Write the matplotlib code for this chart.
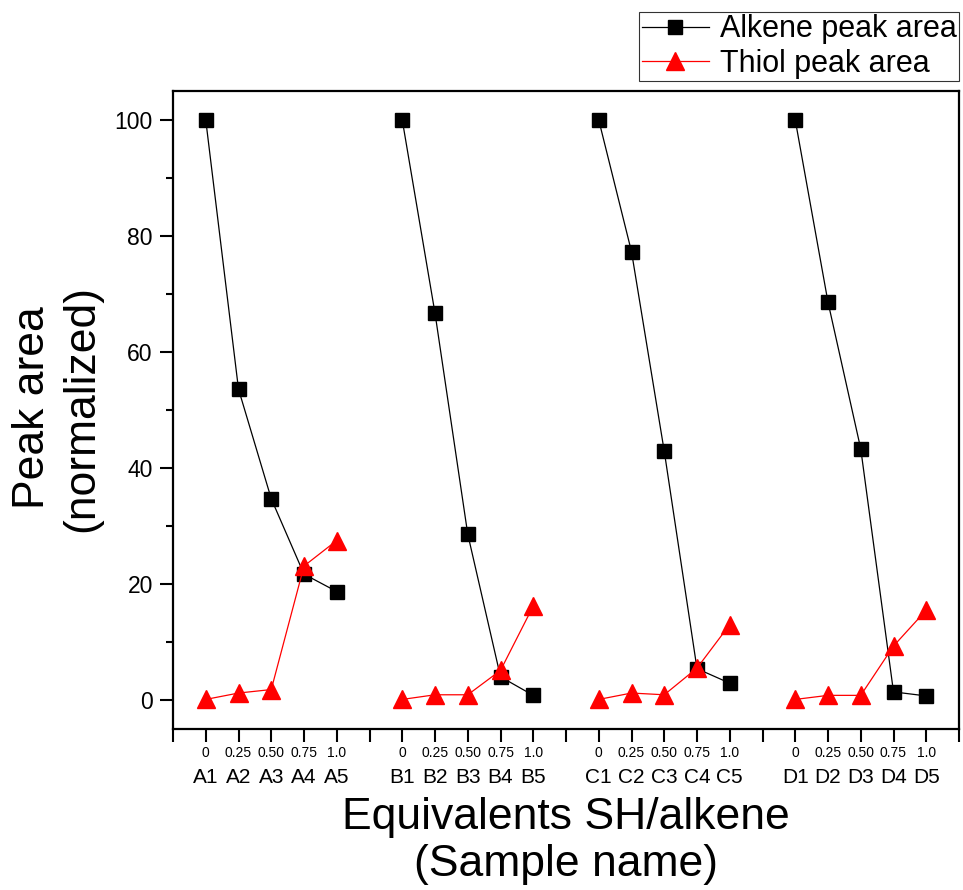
import matplotlib
matplotlib.use("Agg")
import matplotlib.pyplot as plt
from matplotlib.ticker import MultipleLocator
import numpy as np

plt.rcParams['font.family'] = ['Liberation Sans', 'DejaVu Sans']

# ---- data ----
groups = ['A', 'B', 'C', 'D']
equivalents = ['0', '0.25', '0.50', '0.75', '1.0']
alkene_A = [100, 53.6, 34.7, 21.7, 18.7]
alkene_B = [100, 66.7, 28.6, 4.0, 0.8]
alkene_C = [100, 77.3, 42.9, 5.4, 2.9]
alkene_D = [100, 68.6, 43.3, 1.4, 0.7]
thiol_A = [0.1, 1.2, 1.8, 23.1, 27.5]
thiol_B = [0.1, 0.9, 0.9, 5.1, 16.2]
thiol_C = [0.1, 1.2, 0.9, 5.5, 13.0]
thiol_D = [0.1, 0.8, 0.8, 9.3, 15.5]
alkene = [alkene_A, alkene_B, alkene_C, alkene_D]
thiol = [thiol_A, thiol_B, thiol_C, thiol_D]

fig = plt.figure(figsize=(9.63, 8.9), dpi=100)
ax = fig.add_axes([173/963, 1-729/890, (959-173)/963, (729-91)/890])

for gi, g in enumerate(groups):
    x = np.arange(1, 6) + gi * 6
    ax.plot(x, alkene[gi], color='black', lw=0.9, marker='s', ms=10,
            mfc='black', mec='black', label='Alkene peak area' if gi == 0 else None, zorder=3)
for gi, g in enumerate(groups):
    x = np.arange(1, 6) + gi * 6
    ax.plot(x, thiol[gi], color='red', lw=0.9, marker='^', ms=12.5,
            mfc='red', mec='red', label='Thiol peak area' if gi == 0 else None, zorder=4)

ax.set_xlim(0, 24)
ax.set_ylim(-5, 105)
ax.set_xticks(np.arange(0, 25))
ax.set_xticklabels([''] * 25)
ax.yaxis.set_major_locator(MultipleLocator(20))
ax.yaxis.set_minor_locator(MultipleLocator(10))
ax.tick_params(axis='both', which='major', direction='out', length=9.5, width=1.5, labelsize=16.5, pad=5)
ax.tick_params(axis='y', which='minor', direction='out', length=5, width=1.5)
for s in ax.spines.values():
    s.set_linewidth(1.6)

# tick label rows: equivalents and sample names
for gi, g in enumerate(groups):
    for k in range(5):
        xpos = 1 + k + gi * 6
        ax.annotate(equivalents[k], xy=(xpos, 0), xycoords=ax.get_xaxis_transform(),
                    xytext=(0, -17.3), textcoords='offset points', ha='center', va='center',
                    fontsize=10)
        ax.annotate(f'{g}{k+1}', xy=(xpos, 0), xycoords=ax.get_xaxis_transform(),
                    xytext=(0, -34.6), textcoords='offset points', ha='center', va='center',
                    fontsize=15)

fig.text(566/963, 1-841/890, 'Equivalents SH/alkene\n(Sample name)', ha='center', va='center',
         fontsize=32, linespacing=1.2)
fig.text(57/963, 1-408/890, 'Peak area\n(normalized)', ha='center', va='center',
         fontsize=32, rotation=90, linespacing=1.25)

leg = ax.legend(loc='upper right', bbox_to_anchor=(959/963, 1-12/890), bbox_transform=fig.transFigure,
                fontsize=22, frameon=True, fancybox=False, handlelength=2.2, handletextpad=0.35,
                labelspacing=0.15, borderpad=0.08, borderaxespad=0, markerscale=1.0)
leg.get_frame().set_edgecolor('black')
leg.get_frame().set_linewidth(0.8)

fig.savefig('out.png', dpi=100)
